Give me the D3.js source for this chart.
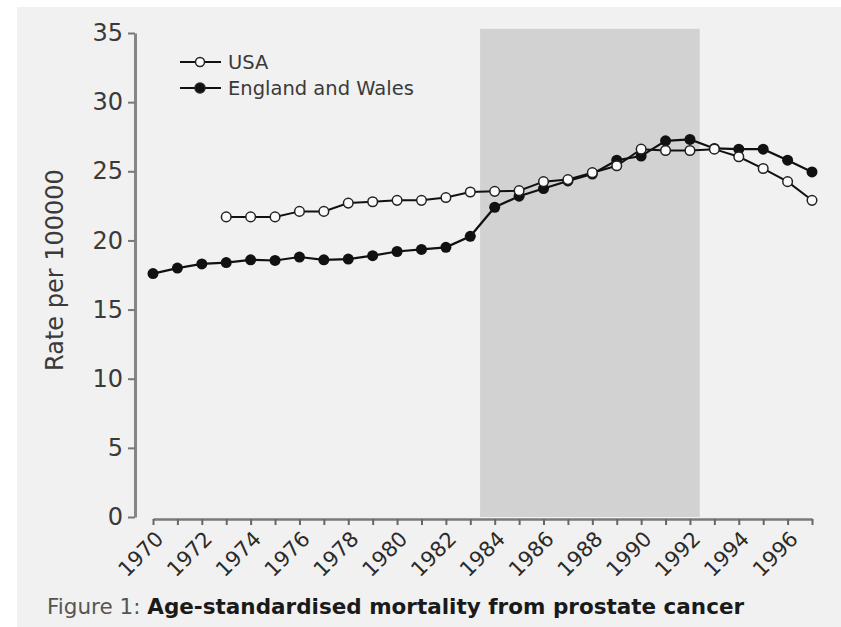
<!DOCTYPE html>
<html>
<head>
<meta charset="utf-8">
<script src="https://cdn.jsdelivr.net/npm/d3@7"></script>
<style>
  body { margin: 0; background: #fff; }
  svg { display: block; }
</style>
</head>
<body>
<svg id="chart" width="841" height="627"></svg>
<script>
// data
const years = d3.range(1970, 1998);
const ewRates = [17.6, 18.0, 18.3, 18.4, 18.6, 18.55, 18.8, 18.6, 18.65, 18.9, 19.2, 19.35, 19.5, 20.3,
                 22.4, 23.2, 23.75, 24.3, 24.8, 25.8, 26.1, 27.2, 27.3, 26.65, 26.6, 26.6, 25.8, 24.95];
const usaYears = d3.range(1973, 1998);
const usaRates = [21.7, 21.7, 21.7, 22.1, 22.1, 22.7, 22.8, 22.9, 22.9, 23.1, 23.5, 23.55, 23.6, 24.25,
                  24.4, 24.9, 25.4, 26.6, 26.5, 26.5, 26.6, 26.05, 25.2, 24.25, 22.9];
const yTicks = [0, 5, 10, 15, 20, 25, 30, 35];
const shadeYears = [1983.4, 1992.4];
const shadeTop = 35.3;
const seriesNames = ["USA", "England and Wales"];

const svg = d3.select("#chart");

// page background
svg.append("rect")
    .attr("x", 17).attr("y", 7)
    .attr("width", 841 - 17).attr("height", 627 - 7)
    .attr("fill", "#f1f1f1");

var x = d3.scaleLinear().domain([1970, 1997]).range([153, 812]);
var y = d3.scaleLinear().domain([0, 35]).range([517, 33]);

// shaded period
svg.append("rect")
    .attr("x", x(shadeYears[0]))
    .attr("y", y(shadeTop))
    .attr("width", x(shadeYears[1]) - x(shadeYears[0]))
    .attr("height", y(0) - y(shadeTop))
    .attr("fill", "#d2d2d2");

// y axis
const yAxis = svg.append("g")
    .attr("transform", "translate(135,0)")
    .call(d3.axisLeft(y).tickValues(yTicks).tickSize(7).tickSizeOuter(0).tickPadding(5));
yAxis.select(".domain").attr("stroke", "#858585").attr("stroke-width", 3);
yAxis.selectAll(".tick line").attr("stroke", "#777").attr("stroke-width", 2);
yAxis.selectAll("text")
    .style("font-family", "DejaVu Sans")
    .style("font-size", "24px")
    .attr("fill", "#3a3a3a");

// x axis
const xAxis = svg.append("g")
    .attr("transform", "translate(0,519)")
    .call(d3.axisBottom(x).tickValues(years).tickSize(6).tickSizeOuter(0)
        .tickFormat(d => d % 2 === 0 ? d : ""));
xAxis.select(".domain").attr("stroke", "#7a7a7a").attr("stroke-width", 2.5);
xAxis.selectAll(".tick line").attr("stroke", "#666").attr("stroke-width", 2);
xAxis.selectAll("text")
    .style("font-family", "DejaVu Sans")
    .style("font-size", "21px")
    .attr("fill", "#2a2a2a")
    .attr("text-anchor", "end")
    .attr("x", 0).attr("y", 0).attr("dy", "0.35em")
    .attr("transform", "translate(6,16) rotate(-45)");

// y label
svg.append("text")
    .attr("transform", "translate(63,270) rotate(-90)")
    .attr("text-anchor", "middle")
    .style("font-family", "DejaVu Sans")
    .style("font-size", "24px")
    .attr("fill", "#3a3a3a")
    .text("Rate per 100000");

// lines
var line = d3.line().x(d => x(d[0])).y(d => y(d[1]));
const ewData = years.map((yr, i) => [yr, ewRates[i]]);
const usaData = usaYears.map((yr, i) => [yr, usaRates[i]]);

svg.append("path").datum(usaData)
    .attr("d", line).attr("fill", "none")
    .attr("stroke", "#111").attr("stroke-width", 2);
svg.append("path").datum(ewData)
    .attr("d", line).attr("fill", "none")
    .attr("stroke", "#111").attr("stroke-width", 2.2);

svg.selectAll(".ewDot").data(ewData).enter()
    .append("circle")
    .attr("cx", d => x(d[0])).attr("cy", d => y(d[1]))
    .attr("r", 5.5).attr("fill", "#111");

svg.selectAll(".usaDot").data(usaData).enter()
    .append("circle")
    .attr("cx", d => x(d[0])).attr("cy", d => y(d[1]))
    .attr("r", 4.8).attr("fill", "#fafafa")
    .attr("stroke", "#222").attr("stroke-width", 1.5);

// legend
const legend = svg.append("g");
seriesNames.forEach(function(name, i) {
    var ly = 62 + i * 26;
    legend.append("line")
        .attr("x1", 180).attr("x2", 221).attr("y1", ly).attr("y2", ly)
        .attr("stroke", "#111").attr("stroke-width", 2);
    legend.append("circle")
        .attr("cx", 200).attr("cy", ly).attr("r", i === 0 ? 4.5 : 5)
        .attr("fill", i === 0 ? "#fafafa" : "#111")
        .attr("stroke", "#222").attr("stroke-width", 1.5);
    legend.append("text")
        .attr("x", 228).attr("y", ly + 7)
        .style("font-family", "DejaVu Sans")
        .style("font-size", "19.5px")
        .attr("fill", "#3a3a3a")
        .text(name);
});

// caption
const caption = svg.append("text")
    .attr("x", 47).attr("y", 614)
    .style("font-family", "DejaVu Sans")
    .style("font-size", "21.5px");
caption.append("tspan").attr("fill", "#555").text("Figure 1: ");
caption.append("tspan").attr("fill", "#1a1a1a").style("font-weight", "bold")
    .text("Age-standardised mortality from prostate cancer");
</script>
</body>
</html>
